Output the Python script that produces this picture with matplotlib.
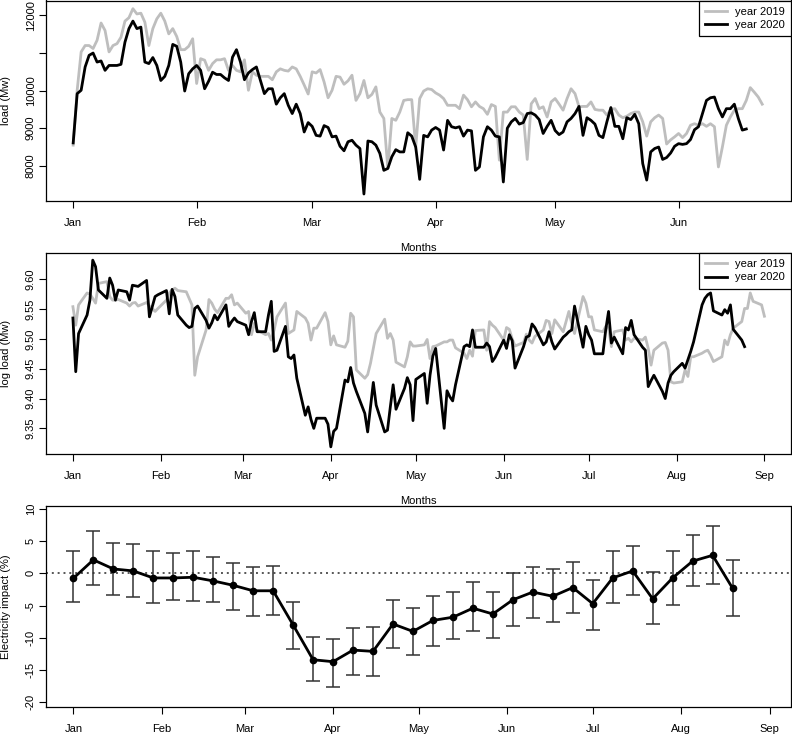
import numpy as np
import pandas as pd
import matplotlib
matplotlib.use('Agg')
import matplotlib.pyplot as plt
import matplotlib.dates as mdates

plt.rcParams['font.family'] = ['Liberation Sans', 'DejaVu Sans']

# daily load (Mw), Jan 1 onwards
load_2019 = [
    8550, 10010, 11030, 11200, 11200, 11120, 11340, 11800, 11600, 11030,
    11200, 11250, 11420, 11850, 11940, 12180, 12040, 12060, 11820, 11200,
    11650, 11910, 12060, 11850, 11510, 11650, 11440, 11090, 11090, 11180,
    11380, 10190, 10850, 10810, 10540, 10720, 10820, 10820, 10850, 10540,
    10670, 10540, 10500, 10820, 10010, 10500, 10410, 10380, 10380, 10380,
    10290, 10500, 10580, 10540, 10520, 10630, 10580, 10380,
    10150, 9910, 10500, 10470, 10560, 10230, 9810, 10010, 10380, 10360, 10170, 10260,
    10410, 9740, 9920, 10270, 9810, 9900, 10100, 9430, 9260, 7930,
    9260, 9210, 9430, 9740, 9760, 9760, 8500, 9790, 9990, 10050,
    10030, 9940, 9880, 9790, 9610, 9610, 9610, 9520, 9880, 9760,
    9570, 9700, 9580, 9520, 9370, 9630, 9580, 8150, 9430, 9430,
    9570, 9570, 9430, 9350, 8170, 9650, 9790, 9520, 9570, 9300, 9700,
    9790, 9640, 9480, 9790, 10050, 9920, 9570, 9580, 9580, 9700,
    9500, 9480, 9480, 9350, 9500, 9520, 9350, 9280, 9320, 9390,
    9430, 9430, 9170, 8790, 9170, 9280, 9350, 9260, 8580, 8690,
    8770, 8860, 8750, 8860, 9080, 9120, 9080, 9120, 9050, 9120,
    9040, 7970, 8500, 9080, 9300, 9480, 9520, 9520, 9740, 10080,
    9960, 9830, 9640]
load_2020 = [
    8610, 9920, 10010, 10630, 10940, 11000, 10760, 10790, 10540, 10670,
    10670, 10670, 10700, 11290, 11650, 11850, 11650, 11690, 10760, 10720,
    10880, 10670, 10270, 10380, 10670, 11230, 11180, 10760, 9990, 10450,
    10580, 10670, 10540, 10050, 10250, 10490, 10430, 10430, 10340, 10270,
    10890, 11090, 10760, 10290, 10470, 10560, 10630, 10270, 9920, 10050,
    10050, 9640, 9810, 9920, 9610, 9390, 9640, 9390,
    8900, 9150, 9050, 8810, 8790, 9070, 9020, 8770, 8790, 8520, 8400, 8640,
    8680, 8550, 8460, 7250, 8660, 8640, 8550, 8330, 7880, 7930,
    8240, 8430, 8370, 8370, 8880, 8790, 8500, 7640, 8810, 8770,
    8950, 9020, 8950, 8420, 9210, 9040, 9010, 9040, 8790, 8950,
    8930, 7880, 7970, 8770, 9040, 8950, 8790, 8770, 7570, 9000,
    9170, 9260, 9110, 9150, 9390, 9410, 9350, 9230, 8860, 9050, 9210,
    8940, 8830, 8900, 9170, 9260, 9390, 9580, 8810, 9280, 9210,
    9110, 8810, 8750, 9170, 9550, 9050, 9050, 8720, 9280, 9230,
    9370, 9120, 8060, 7620, 8370, 8460, 8500, 8170, 8220, 8340,
    8520, 8590, 8570, 8590, 8700, 8960, 9040, 9390, 9740, 9810,
    9830, 9520, 9300, 9520, 9520, 9640, 9260, 8950, 8980]

# log load, working days
logload_2019 = [
    9.554, 9.523, 9.557, 9.577, 9.575, 9.568, 9.560, 9.593, 9.596, 9.571,
    9.565, 9.565, 9.566, 9.560, 9.555, 9.560, 9.561, 9.555, 9.561, 9.555,
    9.551, 9.546, 9.551, 9.565, 9.577, 9.582, 9.585, 9.581, 9.579, 9.568,
    9.557, 9.439, 9.470, 9.515, 9.566, 9.560, 9.550, 9.544, 9.568, 9.568,
    9.574, 9.557, 9.560, 9.543, 9.546, 9.507, 9.526, 9.515, 9.507, 9.509,
    9.498, 9.515, 9.537, 9.560, 9.509, 9.512, 9.515, 9.546, 9.535, 9.526,
    9.498, 9.518,
    9.518, 9.544, 9.529, 9.490, 9.505, 9.490, 9.486, 9.496, 9.543, 9.537,
    9.448, 9.434, 9.440, 9.459, 9.484, 9.509, 9.533,
    9.501, 9.509, 9.498, 9.461, 9.453, 9.470, 9.495, 9.488, 9.488, 9.490,
    9.499, 9.467, 9.487, 9.488, 9.495, 9.495, 9.498, 9.498, 9.485, 9.476,
    9.467, 9.481, 9.471, 9.514, 9.515, 9.481, 9.529, 9.523, 9.519, 9.498,
    9.519, 9.516, 9.500, 9.488, 9.494, 9.508, 9.498, 9.493, 9.504, 9.515,
    9.531, 9.529, 9.509,
    9.532, 9.512, 9.529, 9.546, 9.526, 9.509, 9.571, 9.560, 9.537, 9.537,
    9.515, 9.512, 9.521, 9.518, 9.487, 9.512, 9.515, 9.498, 9.501, 9.495,
    9.501, 9.498, 9.503, 9.484, 9.456, 9.481, 9.493, 9.494, 9.481, 9.428,
    9.426, 9.428, 9.448, 9.437, 9.470, 9.470, 9.476, 9.479, 9.481, 9.473,
    9.462, 9.470, 9.498, 9.490, 9.507, 9.518, 9.529, 9.551, 9.551, 9.577,
    9.563, 9.557, 9.538]
logload_2020 = [
    9.535, 9.445, 9.509, 9.540, 9.565, 9.632, 9.621, 9.582, 9.568, 9.602,
    9.590, 9.565, 9.582, 9.579, 9.565, 9.590, 9.589, 9.588, 9.598, 9.537,
    9.554, 9.571, 9.574, 9.581, 9.542, 9.583, 9.571, 9.540, 9.523, 9.519,
    9.521, 9.551, 9.555, 9.531, 9.518, 9.527, 9.540, 9.532, 9.557, 9.521,
    9.529, 9.535, 9.529, 9.523, 9.507, 9.529, 9.544, 9.512, 9.512, 9.540,
    9.563, 9.479, 9.481, 9.521, 9.470, 9.467, 9.473, 9.434, 9.372, 9.386,
    9.365, 9.350, 9.367, 9.367, 9.357, 9.319, 9.345, 9.350,
    9.431, 9.428, 9.452, 9.426, 9.412, 9.375, 9.344, 9.386, 9.427, 9.389,
    9.344, 9.347, 9.386, 9.423, 9.382, 9.417, 9.435, 9.423, 9.363, 9.432,
    9.442, 9.392, 9.439, 9.471, 9.484, 9.350, 9.413, 9.403, 9.396, 9.423,
    9.487, 9.490, 9.487, 9.515, 9.486, 9.486, 9.493, 9.487, 9.462, 9.469,
    9.498, 9.484, 9.507, 9.497, 9.451, 9.487, 9.503, 9.505, 9.525, 9.519,
    9.490, 9.495, 9.512,
    9.495, 9.483, 9.503, 9.507, 9.512, 9.515, 9.555, 9.486, 9.521, 9.507,
    9.498, 9.475, 9.475, 9.515, 9.546, 9.493, 9.503, 9.475, 9.519, 9.515,
    9.531, 9.507, 9.486, 9.481, 9.420, 9.430, 9.439, 9.412, 9.400, 9.426,
    9.439, 9.445, 9.459, 9.451, 9.465, 9.479, 9.495, 9.557, 9.568, 9.574,
    9.577, 9.547, 9.540, 9.549, 9.543, 9.557, 9.516, 9.498, 9.487]

# weekly impact estimate (%) with interval
impact = [-0.76, 2.1, 0.69, 0.38, -0.71, -0.71, -0.6, -1.17, -1.85, -2.7,
          -2.7, -8.0, -13.4, -13.7, -11.9, -12.1, -7.85, -9.0, -7.3, -6.8,
          -5.4, -6.3, -4.1, -2.9, -3.55, -2.2, -4.7, -0.7, 0.38, -3.95,
          -0.7, 1.9, 2.8, -2.3]
impact_hi = [3.4, 6.5, 4.67, 4.5, 3.5, 3.2, 3.4, 2.6, 1.68, 1.05,
             1.15, -4.5, -9.9, -10.2, -8.4, -8.3, -4.1, -5.4, -3.5, -2.9,
             -1.4, -2.9, 0.12, 1.05, 0.74, 1.83, -1.0, 3.5, 4.3, 0.27,
             3.5, 5.9, 7.3, 2.0]
impact_lo = [-4.4, -1.8, -3.35, -3.66, -4.6, -4.1, -4.3, -4.4, -5.7, -6.6,
             -6.5, -11.8, -16.7, -17.6, -15.7, -15.9, -11.6, -12.7, -11.2, -10.2,
             -9.0, -10.1, -8.1, -6.9, -7.6, -6.2, -8.8, -4.6, -3.35, -7.9,
             -4.9, -2.0, -1.6, -6.6]

GREY = '#bebebe'
start = pd.Timestamp('2020-01-01')

days19 = pd.date_range(start, periods=len(load_2019), freq='D')
days20 = pd.date_range(start, periods=len(load_2020), freq='D')
wd19 = pd.bdate_range(start, periods=len(logload_2019))
wd20 = pd.bdate_range(start, periods=len(logload_2020))
weeks = pd.date_range(start, periods=len(impact), freq='7D')

fig = plt.figure(figsize=(7.92, 7.34), dpi=100)
W, H = 792, 734


def add_ax(x0, y0, x1, y1):
    return fig.add_axes([x0 / W, 1 - y1 / H, (x1 - x0) / W, (y1 - y0) / H])


ax1 = add_ax(45.7, 0.5, 790.5, 201)
ax2 = add_ax(45.7, 253, 790.5, 454)
ax3 = add_ax(45.7, 505.7, 790.5, 707)


def style(ax, ylabel, xlabel=True):
    ax.xaxis.set_major_locator(mdates.MonthLocator())
    ax.xaxis.set_major_formatter(mdates.DateFormatter('%b'))
    ax.tick_params(axis='both', direction='out', length=5, width=0.8,
                   labelsize=8)
    ax.tick_params(axis='x', pad=7)
    ax.tick_params(axis='y', pad=2)
    for lab in ax.get_yticklabels():
        lab.set_rotation(90)
        lab.set_va('center')
    for s in ax.spines.values():
        s.set_linewidth(0.9)
    ax.set_ylabel(ylabel, fontsize=8)
    ax.yaxis.set_label_coords(-0.046, 0.5)
    if xlabel:
        ax.set_xlabel('Months', fontsize=8, labelpad=11)


def legend(ax):
    lg = ax.legend(loc='upper right', fontsize=8, frameon=True, fancybox=False,
                   framealpha=1, edgecolor='black', borderaxespad=0,
                   handlelength=2.0, handletextpad=0.7, labelspacing=0.3,
                   borderpad=0.55)
    lg.get_frame().set_linewidth(0.9)


# panel 1: daily load
ax1.plot(days19, load_2019, color=GREY, lw=2, label='year 2019')
ax1.plot(days20, load_2020, color='black', lw=2, label='year 2020')
ax1.set_xlim(start - pd.Timedelta(days=6.9), start + pd.Timedelta(days=180.1))
ax1.set_ylim(7064, 12398)
ax1.set_yticks([8000, 9000, 10000, 11000, 12000])
ax1.set_yticklabels(['8000', '9000', '10000', '', '12000'])
style(ax1, 'load (Mw)')
legend(ax1)

# panel 2: log load
ax2.plot(wd19, logload_2019, color=GREY, lw=2, label='year 2019')
ax2.plot(wd20, logload_2020, color='black', lw=2, label='year 2020')
ax2.set_xlim(start - pd.Timedelta(days=9.6), start + pd.Timedelta(days=253.2))
ax2.set_ylim(9.307, 9.644)
ax2.set_yticks([9.35, 9.40, 9.45, 9.50, 9.55, 9.60])
ax2.set_yticklabels(['9.35', '9.40', '9.45', '9.50', '9.55', '9.60'])
style(ax2, 'log load (Mw)')
legend(ax2)

# panel 3: weekly impact
imp = np.array(impact)
err = [imp - np.array(impact_lo), np.array(impact_hi) - imp]
ax3.axhline(0, color='#555555', lw=1.4, ls=(0, (1, 2)))
ax3.errorbar(weeks, imp, yerr=err, fmt='none', ecolor='#333333',
             elinewidth=1.1, capsize=5, capthick=1.1)
ax3.plot(weeks, imp, color='black', lw=2, marker='o', ms=4.5)
ax3.set_xlim(start - pd.Timedelta(days=9.7), start + pd.Timedelta(days=251.3))
ax3.set_ylim(-20.73, 10.5)
ax3.set_yticks([-20, -15, -10, -5, 0, 5, 10])
ax3.set_yticklabels(['-20', '-15', '-10', '-5', '0', '5', '10'])
style(ax3, 'Electricity impact (%)', xlabel=False)

fig.savefig('out.png', dpi=100)
